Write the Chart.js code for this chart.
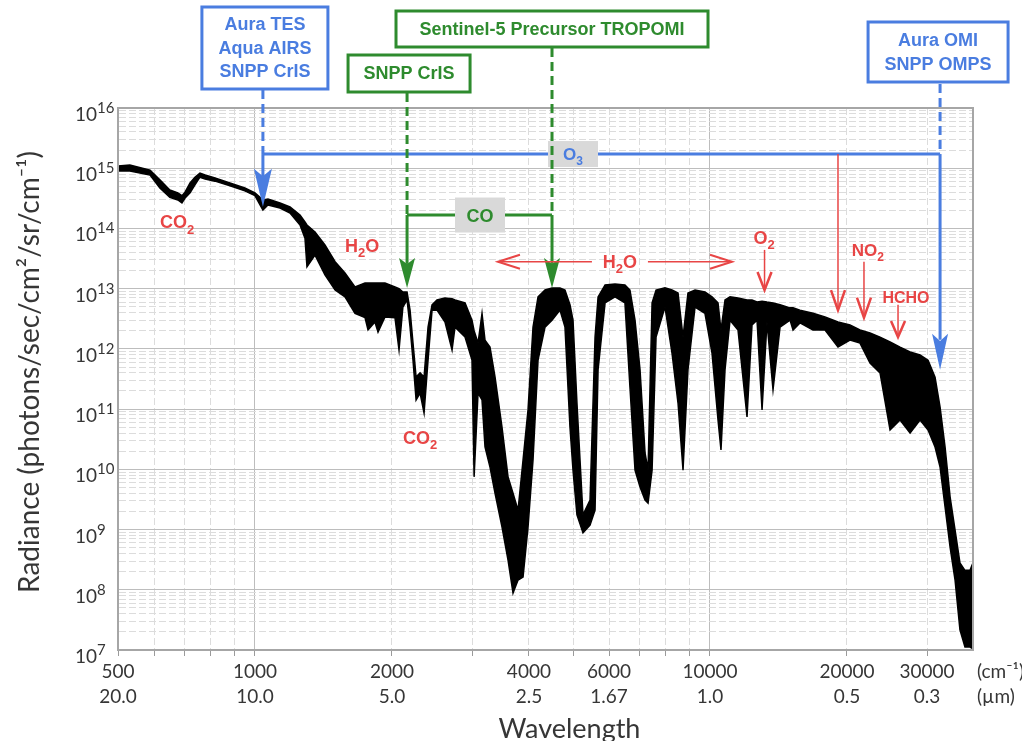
<!DOCTYPE html>
<html>
<head>
<meta charset="utf-8">
<script src="https://cdn.jsdelivr.net/npm/chart.js@4.4.1/dist/chart.umd.min.js"></script>
<style>
  html, body { margin: 0; padding: 0; background: #fff; }
</style>
</head>
<body>
<canvas id="spectrum" width="1022" height="741"></canvas>
<script>
// wavenumber (cm-1) and the upper / lower edge of the radiance band
const wavenumber = [500, 531, 588, 618, 650, 677, 691, 702, 720, 738,
  757, 777, 817, 881, 950, 1000, 1026, 1041, 1068, 1135,
  1194, 1256, 1288, 1301, 1355, 1425, 1500, 1577, 1659, 1745,
  1772, 1835, 1864, 1931, 2031, 2073, 2114, 2159, 2192, 2225,
  2260, 2306, 2353, 2401, 2450, 2512, 2616, 2711, 2752, 2895,
  2999, 3031, 3092, 3155, 3203, 3285, 3370, 3491, 3599, 3691,
  3786, 3883, 3982, 4084, 4189, 4340, 4496, 4681, 4801, 4924,
  5000, 5101, 5259, 5450, 5590, 5676, 5881, 6184, 6503, 6670,
  6843, 7019, 7199, 7310, 7460, 7612, 7963, 8252, 8507, 8725,
  8946, 9272, 9749, 10104, 10415, 10573, 10791, 11068, 11524, 12062,
  12370, 12688, 13014, 13344, 13758, 14256, 14996, 15225, 15768, 16843,
  17898, 19114, 20309, 21365, 22476, 23645, 24875, 26167, 27527, 28951,
  30150, 31236, 32040, 32860, 33705, 34568, 35432, 36340, 37278, 37850];

const radianceTop = [1.09e15, 1.13e15, 9.3e14, 6.4e14, 4.35e14, 3.9e14, 3.5e14, 4.0e14, 5.7e14, 7.1e14,
  8.3e14, 7.7e14, 6.9e14, 5.7e14, 4.7e14, 3.9e14, 3.3e14, 2.97e14, 3.08e14, 2.65e14,
  2.27e14, 1.67e14, 1.28e14, 1.14e14, 8.7e13, 5.3e13, 2.8e13, 1.82e13, 1.07e13, 1.24e13,
  1.24e13, 1.24e13, 1.24e13, 1.24e13, 1.07e13, 1.0e13, 8.8e12, 8.8e12, 4.4e12, 1.25e12,
  3.4e11, 4.0e11, 3.4e11, 2.3e12, 5.4e12, 6.5e12, 7.0e12, 6.8e12, 6.5e12, 5.8e12,
  3.0e12, 2.0e12, 1.25e12, 3.9e12, 1.4e12, 1.07e12, 3.4e11, 5.0e10, 7.5e9, 4.0e9,
  2.1e9, 1.43e10, 9.7e10, 2.3e12, 7.3e12, 9.5e12, 1.03e13, 1.03e13, 9.5e12, 5.4e12,
  3.0e12, 1.26e11, 1.75e9, 3.1e9, 1.57e12, 7.3e12, 1.15e13, 1.19e13, 1.15e13, 9.5e12,
  3.0e12, 4.5e11, 1.87e10, 9.7e9, 5.8e12, 9.5e12, 1.03e13, 9.5e12, 8.5e12, 1.57e12,
  8.5e12, 9.5e12, 8.8e12, 7.3e12, 5.8e12, 2.06e12, 6.5e12, 7.3e12, 7.0e12, 6.5e12,
  6.5e12, 6.0e12, 6.2e12, 6.0e12, 5.8e12, 5.4e12, 4.8e12, 4.8e12, 4.4e12, 3.9e12,
  3.4e12, 2.8e12, 2.5e12, 2.06e12, 1.84e12, 1.57e12, 1.3e12, 1.07e12, 8.9e11, 7.9e11,
  6.5e11, 3.4e11, 1.08e11, 2.35e10, 3.5e9, 9.8e8, 2.8e8, 2.1e8, 2.1e8, 2.8e8];

const radianceBottom = [9.0e14, 9.0e14, 7.7e14, 4.7e14, 3.3e14, 2.97e14, 2.65e14, 3.2e14, 3.9e14, 5.3e14,
  7.1e14, 6.6e14, 6.1e14, 5.1e14, 4.2e14, 3.5e14, 2.45e14, 2.02e14, 2.45e14, 2.18e14,
  1.8e14, 1.14e14, 6.9e13, 2.3e13, 3.6e13, 1.69e13, 9.5e12, 7.3e12, 3.9e12, 3.3e12,
  2.06e12, 2.8e12, 1.9e12, 3.4e12, 3.3e12, 9.6e11, 4.96e12, 6.5e12, 2.3e12, 6.5e11,
  1.42e11, 1.85e11, 8.6e10, 6.5e11, 4.4e12, 4.4e12, 2.8e12, 9.6e11, 2.3e12, 1.57e12,
  6.5e11, 7.5e9, 1.85e11, 1.42e11, 2.35e10, 1.09e10, 4.0e9, 1.1e9, 3.1e8, 8.8e7,
  1.45e8, 1.63e8, 1.1e9, 1.43e10, 6.5e11, 2.3e12, 3.0e12, 4.4e12, 2.3e12, 5.0e10,
  9.7e9, 1.75e9, 8.8e8, 1.19e9, 2.1e9, 4.5e11, 5.8e12, 7.3e12, 5.8e12, 2.3e11,
  9.7e9, 5.1e9, 3.1e9, 2.76e9, 9.7e9, 1.57e12, 4.96e12, 8.5e11, 1.26e11, 9.7e9,
  4.5e11, 4.96e12, 3.9e12, 8.5e11, 6.6e10, 2.1e10, 4.5e11, 3.0e12, 2.06e12, 7.4e10,
  2.5e12, 3.0e12, 9.7e10, 2.8e12, 2.1e11, 2.3e12, 3.0e12, 2.06e12, 2.7e12, 2.06e12,
  2.06e12, 1.07e12, 1.4e12, 1.25e12, 5.8e11, 4.0e11, 4.5e10, 6.6e10, 4.0e10, 6.6e10,
  4.5e10, 2.35e10, 1.09e10, 2.37e9, 5.1e8, 1.45e8, 2.15e7, 1.12e7, 1.12e7, 1.05e7];

// axis labels
const wnTickValues = [500, 1000, 2000, 4000, 6000, 10000, 20000, 30000];
const wnTickLabels = ['500', '1000', '2000', '4000', '6000', '10000', '20000', '30000'];
const umTickLabels = ['20.0', '10.0', '5.0', '2.5', '1.67', '1.0', '0.5', '0.3'];
const yDecades = [7, 8, 9, 10, 11, 12, 13, 14, 15, 16];

const BLUE = '#4a7de0';
const GREEN = '#2e8b2e';
const RED = '#e84545';
const GRAYBOX = '#d9d9d9';
const TEXT = '#363636';
const BOLD = '"Liberation Sans", Arial, sans-serif';

// grid positions: 1..9 x each decade
const xGrid = [];
for (let e = 2; e <= 4; e++) {
  for (let s = 1; s <= 9; s++) {
    const v = s * Math.pow(10, e);
    if (v >= 500 && v <= 30000) xGrid.push(v);
  }
}
const yGrid = [];
yDecades.forEach(n => {
  for (let s = 1; s <= 9; s++) {
    if (n === 16 && s > 1) break;
    yGrid.push(Number(s + 'e' + n));
  }
});

function isDecade(v) {
  const l = Math.log10(v);
  return Math.abs(l - Math.round(l)) < 1e-9;
}

function line(ctx, x1, y1, x2, y2, color, w, dash) {
  ctx.save();
  ctx.strokeStyle = color;
  ctx.lineWidth = w;
  ctx.setLineDash(dash || []);
  ctx.beginPath();
  ctx.moveTo(x1, y1);
  ctx.lineTo(x2, y2);
  ctx.stroke();
  ctx.restore();
}

function solidHead(ctx, x, tipY, len, half, color) {
  ctx.save();
  ctx.fillStyle = color;
  ctx.beginPath();
  ctx.moveTo(x, tipY);
  ctx.lineTo(x - half, tipY - len);
  ctx.lineTo(x, tipY - len * 0.8);
  ctx.lineTo(x + half, tipY - len);
  ctx.closePath();
  ctx.fill();
  ctx.restore();
}

function chevron(ctx, x, y, dx, dy, color, w) {
  // tip at (x, y); arms go back by (dx, dy) mirrored
  ctx.save();
  ctx.strokeStyle = color;
  ctx.lineWidth = w;
  ctx.lineJoin = 'miter';
  ctx.beginPath();
  if (dx === 0) {
    ctx.moveTo(x - 7, y - dy);
    ctx.lineTo(x, y);
    ctx.lineTo(x + 7, y - dy);
  } else {
    ctx.moveTo(x - dx, y - dy);
    ctx.lineTo(x, y);
    ctx.lineTo(x - dx, y + dy);
  }
  ctx.stroke();
  ctx.restore();
}

// chemical formula, digits drawn as subscripts
function formula(ctx, text, cx, cy, size, color) {
  const parts = text.match(/\d+|\D+/g);
  const big = `bold ${size}px ${BOLD}`;
  const small = `bold ${Math.round(size * 0.72)}px ${BOLD}`;
  let total = 0;
  parts.forEach(p => {
    ctx.font = /\d/.test(p) ? small : big;
    total += ctx.measureText(p).width;
  });
  let x = cx - total / 2;
  ctx.save();
  ctx.fillStyle = color;
  ctx.textAlign = 'left';
  ctx.textBaseline = 'alphabetic';
  parts.forEach(p => {
    const sub = /\d/.test(p);
    ctx.font = sub ? small : big;
    ctx.fillText(p, x, cy + size * 0.36 + (sub ? size * 0.28 : 0));
    x += ctx.measureText(p).width;
  });
  ctx.restore();
}

function instrumentBox(ctx, cx, top, w, h, color, lines, gap) {
  ctx.save();
  ctx.fillStyle = '#fff';
  ctx.fillRect(cx - w / 2, top, w, h);
  ctx.strokeStyle = color;
  ctx.lineWidth = 3;
  ctx.strokeRect(cx - w / 2, top, w, h);
  ctx.fillStyle = color;
  ctx.font = `bold 18px ${BOLD}`;
  ctx.textAlign = 'center';
  ctx.textBaseline = 'middle';
  lines.forEach((t, i) => {
    ctx.fillText(t, cx, top + h / 2 + (i - (lines.length - 1) / 2) * gap + 1);
  });
  ctx.restore();
}

function grayLabel(ctx, cx, cy, w, h, text, color, size) {
  ctx.save();
  ctx.fillStyle = GRAYBOX;
  ctx.fillRect(cx - w / 2, cy - h / 2, w, h);
  ctx.restore();
  formula(ctx, text, cx, cy, size, color);
}

const notesPlugin = {
  id: 'spectrumNotes',
  afterDraw(chart) {
    const { ctx, chartArea: a, scales: { x, y } } = chart;
    const px = v => x.getPixelForValue(v);
    const py = v => y.getPixelForValue(v);

    ctx.save();
    // frame round the plot
    ctx.strokeStyle = '#a6a6a6';
    ctx.lineWidth = 2;
    ctx.strokeRect(a.left, a.top, a.right - a.left, a.bottom - a.top);

    // y tick labels 10^n
    yDecades.forEach(n => {
      const yy = py(Math.pow(10, n));
      ctx.fillStyle = TEXT;
      ctx.textAlign = 'left';
      ctx.textBaseline = 'alphabetic';
      ctx.font = '19px Lato';
      ctx.fillText('10', 75, yy + 13);
      const w = ctx.measureText('10').width;
      ctx.font = '15px Lato';
      ctx.fillText(String(n), 75 + w, yy + 5);
    });

    // unit labels right of the axis
    ctx.font = '19px Lato';
    ctx.fillStyle = TEXT;
    ctx.textAlign = 'left';
    ctx.textBaseline = 'middle';
    ctx.fillText('(cm\u207B\u00B9)', a.right + 4, 672);
    ctx.fillText('(\u00B5m)', a.right + 4, 697);

    // y title
    ctx.save();
    ctx.translate(30, 372);
    ctx.rotate(-Math.PI / 2);
    ctx.font = '28px Lato';
    ctx.textAlign = 'center';
    ctx.fillText('Radiance (photons/sec/cm\u00B2/sr/cm\u207B\u00B9)', 0, 0);
    ctx.restore();

    // x title
    ctx.font = '27px Lato';
    ctx.textAlign = 'center';
    ctx.fillText('Wavelength', (a.left + a.right) / 2 + 24, 729);
    ctx.restore();

    const yO3 = py(1.72e15);
    const yCO = py(1.67e14);
    const xTES = px(1041), xOMI = px(32040), xCrIS = px(2159), xTrop = px(4496);

    // O3 bar and its branches
    line(ctx, xTES, yO3, xOMI, yO3, BLUE, 3);
    line(ctx, xTES, 90, xTES, yO3, BLUE, 3, [9, 5]);
    line(ctx, xTES, yO3, xTES, py(2.3e14) - 30, BLUE, 3);
    solidHead(ctx, xTES, py(2.3e14), 38, 9, BLUE);
    line(ctx, xOMI, 84, xOMI, yO3, BLUE, 3, [9, 5]);
    line(ctx, xOMI, yO3, xOMI, py(4.5e11) - 30, BLUE, 3);
    solidHead(ctx, xOMI, py(4.5e11), 36, 8, BLUE);
    grayLabel(ctx, px(5000), yO3, 50, 26, 'O3', BLUE, 17);

    const xRed = px(19114);
    line(ctx, xRed, yO3, xRed, py(4.4e12), RED, 1.5);
    chevron(ctx, xRed, py(4.4e12), 0, 20, RED, 2.5);

    // CO bracket
    line(ctx, xCrIS, 93, xCrIS, yCO, GREEN, 3, [9, 5]);
    line(ctx, xTrop, 48, xTrop, yCO, GREEN, 3, [9, 5]);
    line(ctx, xCrIS, yCO, xTrop, yCO, GREEN, 3);
    line(ctx, xCrIS, yCO, xCrIS, py(1.03e13) - 24, GREEN, 3);
    line(ctx, xTrop, yCO, xTrop, py(1.03e13) - 24, GREEN, 3);
    solidHead(ctx, xCrIS, py(1.03e13), 30, 8, GREEN);
    solidHead(ctx, xTrop, py(1.03e13), 30, 8, GREEN);
    grayLabel(ctx, px(3123), yCO, 50, 35, 'CO', GREEN, 18);

    // water band double arrow
    const yH2O = py(2.8e13);
    const xL = px(3420), xR = px(11180), xMid = px(6340);
    line(ctx, xL, yH2O, xMid - 28, yH2O, RED, 1.5);
    line(ctx, xMid + 28, yH2O, xR, yH2O, RED, 1.5);
    chevron(ctx, xL, yH2O, -22, 7, RED, 2);
    chevron(ctx, xR, yH2O, 22, 7, RED, 2);
    formula(ctx, 'H2O', xMid, yH2O, 18, RED);

    // red species labels and arrows
    formula(ctx, 'CO2', px(674), py(1.28e14), 18, RED);
    formula(ctx, 'H2O', px(1719), py(5.3e13), 18, RED);
    formula(ctx, 'CO2', px(2306), py(3.44e10), 18, RED);

    formula(ctx, 'O2', px(13145), py(7.2e13), 18, RED);
    line(ctx, px(13180), py(4.4e13), px(13180), py(9.5e12), RED, 1.5);
    chevron(ctx, px(13180), py(9.5e12), 0, 18, RED, 2.5);

    formula(ctx, 'NO2', px(22240), py(4.4e13), 17, RED);
    line(ctx, px(21800), py(2.8e13), px(21800), py(3.3e12), RED, 1.5);
    chevron(ctx, px(21800), py(3.3e12), 0, 20, RED, 2.5);

    formula(ctx, 'HCHO', px(26960), py(7.3e12), 16, RED);
    line(ctx, px(25900), py(5.4e12), px(25900), py(1.57e12), RED, 1.5);
    chevron(ctx, px(25900), py(1.57e12), 0, 16, RED, 2.5);

    // instrument boxes
    instrumentBox(ctx, xTES + 2, 7, 126, 82, BLUE, ['Aura TES', 'Aqua AIRS', 'SNPP CrIS'], 23.5);
    instrumentBox(ctx, xOMI - 2, 22, 140, 60, BLUE, ['Aura OMI', 'SNPP OMPS'], 24);
    instrumentBox(ctx, xCrIS + 2, 55, 122, 37, GREEN, ['SNPP CrIS'], 0);
    instrumentBox(ctx, xTrop, 11, 312, 36, GREEN, ['Sentinel-5 Precursor TROPOMI'], 0);
  }
};

const ctx = document.getElementById('spectrum').getContext('2d');
const spectrumChart = new Chart(ctx, {
  type: 'line',
  data: {
    datasets: [{
      label: 'upper',
      data: wavenumber.map((w, i) => ({ x: w, y: radianceTop[i] })),
      borderColor: '#000',
      backgroundColor: '#000',
      borderWidth: 1.5,
      pointRadius: 0,
      tension: 0,
      fill: '+1'
    }, {
      label: 'lower',
      data: wavenumber.map((w, i) => ({ x: w, y: radianceBottom[i] })),
      borderColor: '#000',
      borderWidth: 1.5,
      pointRadius: 0,
      tension: 0,
      fill: false
    }]
  },
  options: {
    responsive: false,
    devicePixelRatio: 1,
    animation: false,
    layout: { padding: { top: 108, right: 49, left: 0, bottom: 0 } },
    plugins: {
      legend: { display: false },
      tooltip: { enabled: false }
    },
    scales: {
      x: {
        type: 'logarithmic',
        min: 500,
        max: 37850,
        afterBuildTicks: s => { s.ticks = xGrid.map(v => ({ value: v })); },
        afterFit: s => { s.height = 91; },
        grid: {
          color: c => isDecade(c.tick.value) ? '#bdbdbd' : '#dcdcdc',
          tickLength: 6,
          tickColor: '#9a9a9a'
        },
        border: {
          color: '#a6a6a6',
          width: 2,
          dash: c => (c.tick && isDecade(c.tick.value)) ? [] : [7, 3]
        },
        ticks: {
          autoSkip: false,
          maxRotation: 0,
          padding: 3,
          color: TEXT,
          font: { family: 'Lato', size: 19, lineHeight: 1.32 },
          callback: v => {
            const i = wnTickValues.indexOf(Math.round(v));
            return i < 0 ? '' : [wnTickLabels[i], umTickLabels[i]];
          }
        }
      },
      y: {
        type: 'logarithmic',
        min: 1e7,
        max: 1e16,
        afterBuildTicks: s => { s.ticks = yGrid.map(v => ({ value: v })); },
        afterFit: s => { s.width = 118; },
        grid: {
          color: c => isDecade(c.tick.value) ? '#bdbdbd' : '#dcdcdc',
          drawTicks: false
        },
        border: {
          color: '#a6a6a6',
          width: 2,
          dash: c => (c.tick && isDecade(c.tick.value)) ? [] : [7, 3]
        },
        ticks: { display: false }
      }
    }
  },
  plugins: [notesPlugin]
});
</script>
</body>
</html>
